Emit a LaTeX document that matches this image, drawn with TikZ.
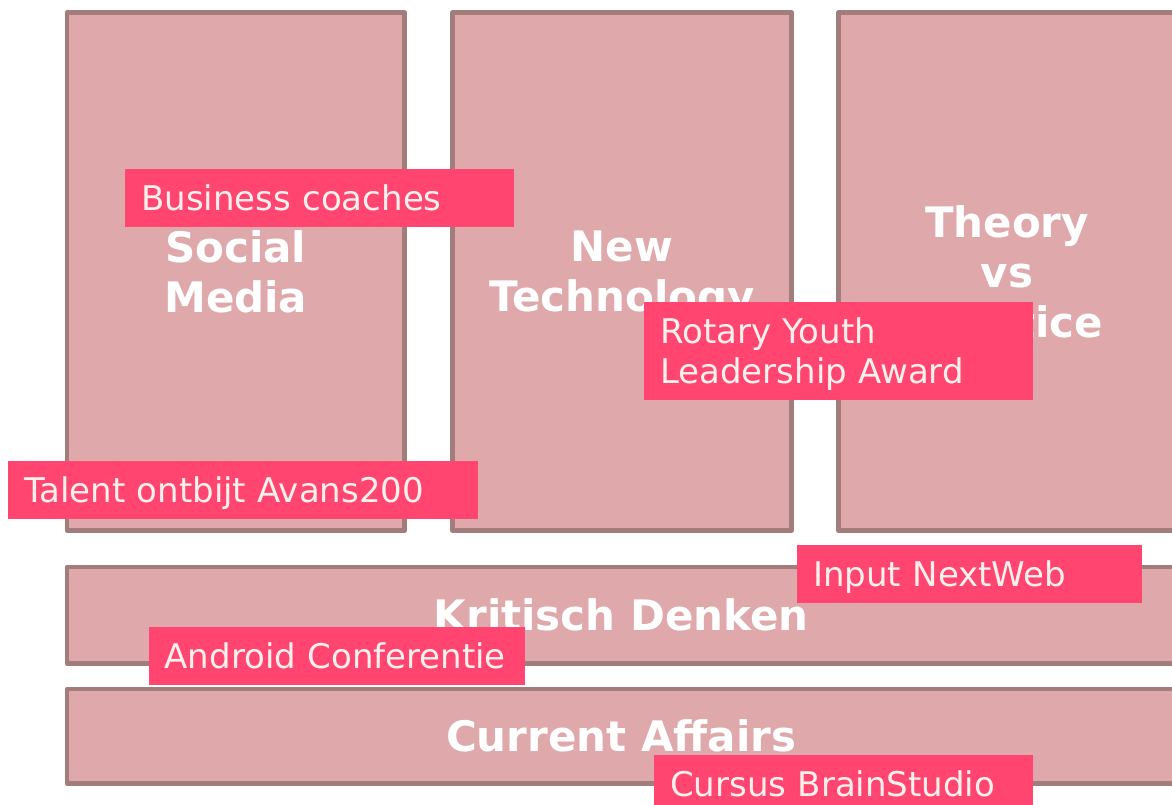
\documentclass[tikz,border=0pt]{standalone}
\usepackage{fontspec}
\setmainfont{DejaVu Sans}
\definecolor{boxfill}{RGB}{223,168,170}
\definecolor{boxline}{RGB}{163,124,124}
\definecolor{tagfill}{RGB}{255,69,112}
\definecolor{tagtext}{RGB}{252,241,236}
\tikzset{
  topic/.style={draw=boxline,fill=boxfill,line width=4.8pt,line join=round,inner sep=0pt,
    text=white,align=center,font=\fontsize{42}{50}\selectfont\bfseries},
  tag/.style={fill=tagfill,text=tagtext,anchor=north west,inner xsep=16pt,inner ysep=0pt,
    align=left,text height=25pt,text depth=0pt,minimum height=58pt,font=\fontsize{34}{40}\selectfont}
}
\begin{document}
\begin{tikzpicture}[x=1pt,y=-1pt]
  \useasboundingbox (0,0) rectangle (1172,805);
  \foreach \i/\x/\y/\w/\h/\t in {1/235.75/271.5/337.5/518/Social\\Media,
      2/622/271.5/339/518/New\\\smash{Technology},
      3/1007/271.5/337/518/Theory\\vs\\Practice,
      4/621.25/615.25/1108.5/96.5/Kritisch Denken,
      5/621.25/736.25/1108.5/94.5/Current Affairs}{
    \node[topic,minimum width=\w pt,minimum height=\h pt] (T\i) at (\x,\y) {\t};
  }
  \foreach \i/\x/\y/\w/\t in {1/125/169/357/Business coaches, 2/8/461/438/Talent ontbijt Avans200,
      3/797/545/313/Input NextWeb, 4/148.5/627/344.5/Android Conferentie,
      5/654/755/347/Cursus BrainStudio}{
    \node[tag,text width=\w pt] (L\i) at (\x,\y) {\t};
  }
  \node[tag,text width=357pt,minimum height=98pt,text depth=40pt] (L6) at (644,302)
    {Rotary Youth\\Leadership Award};
\end{tikzpicture}
\end{document}
